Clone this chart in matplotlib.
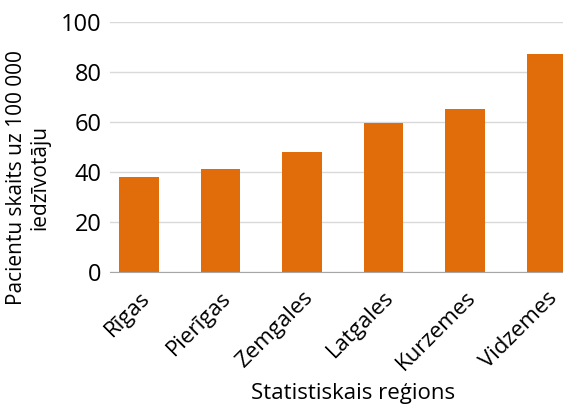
import matplotlib.pyplot as plt

regions = ["Rīgas", "Pierīgas", "Zemgales", "Latgales", "Kurzemes", "Vidzemes"]
patients = [38, 41, 48, 59.5, 65, 87]
yticks = [0, 20, 40, 60, 80, 100]

plt.rcParams['font.family'] = ['Open Sans', 'DejaVu Sans']

fig = plt.figure(figsize=(5.63, 4.07), dpi=100)
ax = fig.add_axes([0.1954, 0.3317, 0.8268, 0.6143])

x = list(range(len(regions)))
ax.bar(x, patients, width=0.49, color='#E06C0A', zorder=3)

ax.set_xlim(-0.356, len(regions) - 1 + 0.356)
ax.set_ylim(0, 100)
ax.set_yticks(yticks)
ax.tick_params(axis='y', labelsize=17, length=0, pad=6)
ax.set_xticks(x)
ax.set_xticklabels(regions, rotation=45, ha='right', rotation_mode='anchor', fontsize=16)
ax.tick_params(axis='x', length=0, pad=11)

ax.grid(axis='y', color='#d9d9d9', linewidth=1, zorder=0)
for s in ['top', 'right', 'left']:
    ax.spines[s].set_visible(False)
ax.spines['bottom'].set_color('#a6a6a6')
ax.spines['bottom'].set_zorder(4)

ax.set_ylabel("Pacientu skaits uz 100 000\niedzīvotāju", fontsize=15, linespacing=1.1)
ax.yaxis.set_label_coords(-0.129, 0.376)
ax.set_xlabel("Statistiskais reģions", fontsize=16)
ax.xaxis.set_label_coords(0.522, -0.444)

fig.savefig("out.png", dpi=100)
